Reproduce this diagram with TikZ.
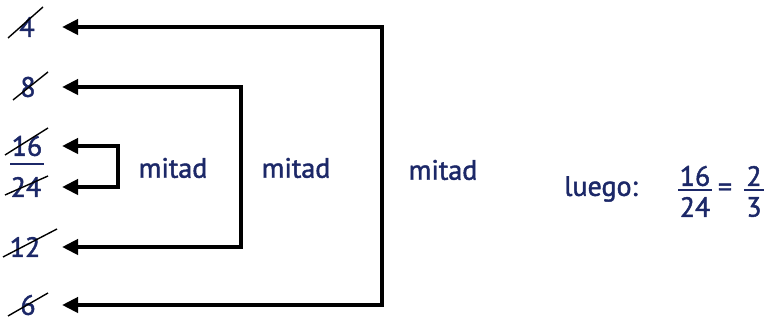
\documentclass[tikz,border=0pt]{standalone}
\usepackage{fontspec}
\setmainfont{PT Sans}[FakeBold=1.6]
\usepackage{xcolor}
\usetikzlibrary{arrows.meta,positioning}
\definecolor{azul}{RGB}{28,40,104}

\begin{document}
\begin{tikzpicture}[x=0.5pt,y=-0.5pt,
		numero/.style={color=azul,inner sep=0pt,font=\fontsize{14}{16}\selectfont},
		tacha/.style={line width=0.7pt},
		flecha/.style={line width=2pt,{Triangle[length=8pt,width=7.5pt]}-{Triangle[length=8pt,width=7.5pt]}},
		barra/.style={color=azul,line width=1pt}]
			\useasboundingbox (0,0) rectangle (773,320);
			% numeros de la izquierda
			\node[numero] (n4) at (27,27) {4};
			\node[numero] (n8) at (28,87) {8};
			\node[numero] (n16) at (27,146) {16};
			\node[numero] (n24) at (26,187) {24};
			\node[numero] (n12) at (25,247) {12};
			\node[numero] (n6) at (28,305) {6};
			\draw[barra] ([shift={(-1,0)}]n16.south west |- 0,164) -- ([shift={(1,0)}]n16.south east |- 0,164);
			\draw[tacha] ([shift={(-19,11)}]n4.center) -- ([shift={(16,-20)}]n4.center);
			\draw[tacha] ([shift={(-15,13)}]n8.center) -- ([shift={(20,-15)}]n8.center);
			\draw[tacha] ([shift={(-22,9)}]n16.center) -- ([shift={(21,-18)}]n16.center);
			\draw[tacha] ([shift={(-21,8)}]n24.center) -- ([shift={(22,-11)}]n24.center);
			\draw[tacha] ([shift={(-22,10)}]n12.center) -- ([shift={(32,-18)}]n12.center);
			\draw[tacha] ([shift={(-20,11)}]n6.center) -- ([shift={(20,-12)}]n6.center);
			% corchetes
			\coordinate (punta) at (62,0);
			\coordinate (c1) at (118,187);
			\coordinate (c2) at (241,247);
			\coordinate (c3) at (382,305);
			\draw[flecha] (n16 -| punta) -| (c1) -- (n24 -| punta);
			\draw[flecha] (n8 -| punta) -| (c2) -- (n12 -| punta);
			\draw[flecha] (n4 -| punta) -| (c3) -- (n6 -| punta);
			\node[numero] (m1) at (173,168) {mitad};
			\node[numero] (m2) at (296,168) {mitad};
			\node[numero] (m3) at (443,170) {mitad};
			% resultado
			\node[numero] (luego) at (601,189) {luego:};
			\node[numero] (f16) at (695,176) {16};
			\node[numero] (f24) at (695,207) {24};
			\node[numero] (igual) at (725,190) {=};
			\node[numero] (f2) at (754,176) {2};
			\node[numero] (f3) at (754,207) {3};
			\draw[barra] ([shift={(-1,0)}]f16.south west |- igual) -- ([shift={(1,0)}]f16.south east |- igual);
			\draw[barra] ([shift={(-2,0)}]f2.south west |- igual) -- ([shift={(2,0)}]f2.south east |- igual);
		\end{tikzpicture}
\end{document}
